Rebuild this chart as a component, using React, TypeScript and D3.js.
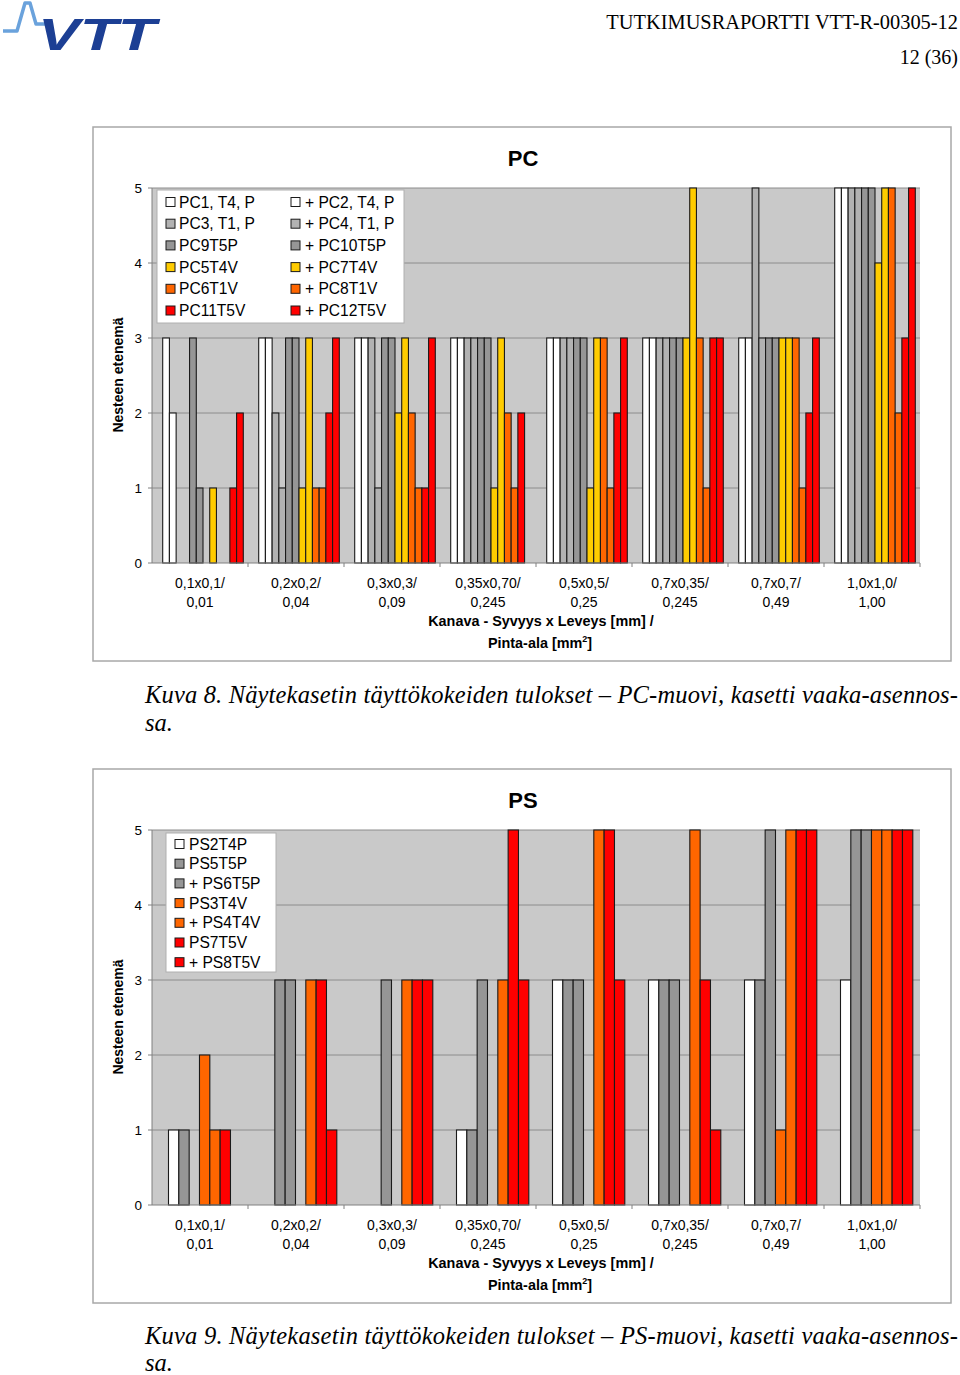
import React from "react";
import * as d3 from "d3";

// ---------- DATA ----------
const categoriesLine1 = ["0,1x0,1/", "0,2x0,2/", "0,3x0,3/", "0,35x0,70/", "0,5x0,5/", "0,7x0,35/", "0,7x0,7/", "1,0x1,0/"];
const categoriesLine2 = ["0,01", "0,04", "0,09", "0,245", "0,25", "0,245", "0,49", "1,00"];
const yTicks = [0, 1, 2, 3, 4, 5];

const pcSeriesNames = [
  "PC1, T4, P", "+ PC2, T4, P",
  "PC3, T1, P", "+ PC4, T1, P",
  "PC9T5P", "+ PC10T5P",
  "PC5T4V", "+ PC7T4V",
  "PC6T1V", "+ PC8T1V",
  "PC11T5V", "+ PC12T5V",
];
const pcSeriesColors = [
  "#ffffff", "#ffffff",
  "#b2b2b2", "#b2b2b2",
  "#969696", "#969696",
  "#ffcc00", "#ffcc00",
  "#ff6600", "#ff6600",
  "#ff0000", "#ff0000",
];
const pcValues = [
  [3, 3, 3, 3, 3, 3, 3, 5],
  [2, 3, 3, 3, 3, 3, 3, 5],
  [0, 2, 3, 3, 3, 3, 5, 5],
  [0, 1, 1, 3, 3, 3, 3, 5],
  [3, 3, 3, 3, 3, 3, 3, 5],
  [1, 3, 3, 3, 3, 3, 3, 5],
  [0, 1, 2, 1, 1, 3, 3, 4],
  [1, 3, 3, 3, 3, 5, 3, 5],
  [0, 1, 2, 2, 3, 3, 3, 5],
  [0, 1, 1, 1, 1, 1, 1, 2],
  [1, 2, 1, 2, 2, 3, 2, 3],
  [2, 3, 3, 0, 3, 3, 3, 5],
];

const psSeriesNames = ["PS2T4P", "PS5T5P", "+ PS6T5P", "PS3T4V", "+ PS4T4V", "PS7T5V", "+ PS8T5V"];
const psSeriesColors = ["#ffffff", "#969696", "#969696", "#ff6600", "#ff6600", "#ff0000", "#ff0000"];
const psValues = [
  [1, 0, 0, 1, 3, 3, 3, 3],
  [1, 3, 0, 1, 3, 3, 3, 5],
  [0, 3, 3, 3, 3, 3, 5, 5],
  [2, 0, 0, 0, 0, 0, 1, 5],
  [1, 3, 3, 3, 5, 5, 5, 5],
  [1, 3, 3, 5, 5, 3, 5, 5],
  [0, 1, 3, 3, 3, 1, 5, 5],
];

// ---------- STYLE ----------
const SANS = "'Liberation Sans', Arial, Helvetica, sans-serif";
const SERIF = "'Liberation Serif', 'Times New Roman', serif";

type LegendCfg = {
  x: number; y: number; w: number; h: number;
  cols: { mx: number; tx: number }[];
  rowY: number; rowStep: number;
};

type ChartProps = {
  dy: number;
  title: string;
  names: string[];
  colors: string[];
  values: number[][];
  innerStart: number;
  innerEnd: number;
  legend: LegendCfg;
  captionA: string;
  captionB: string;
  captionAY: number;
  captionBY: number;
};

function BarChart({ dy, title, names, colors, values, innerStart, innerEnd, legend, captionA, captionB, captionAY, captionBY }: ChartProps) {
  const frame = { x: 93, y: 127, w: 858, h: 534 };
  const plot = { x0: 152, x1: 920, top: 188, bottom: 563 };

  const x = d3.scaleBand<string>().domain(categoriesLine1.map((_, i) => String(i))).range([plot.x0, plot.x1]).padding(0);
  const inner = d3.scaleBand<string>().domain(names.map((_, i) => String(i))).range([innerStart, innerEnd]).padding(0);
  const y = d3.scaleLinear().domain([0, 5]).range([plot.bottom, plot.top]);
  const bw = x.bandwidth();

  return (
    <g transform={`translate(0,${dy})`}>
      <rect x={frame.x} y={frame.y} width={frame.w} height={frame.h} fill="#ffffff" stroke="#a8a8a8" strokeWidth={1.5} />
      <text x={523} y={166} textAnchor="middle" fontFamily={SANS} fontWeight="bold" fontSize={22}>{title}</text>

      {/* plot area */}
      <rect x={plot.x0} y={plot.top} width={plot.x1 - plot.x0} height={plot.bottom - plot.top} fill="#c9c9c9" />
      {yTicks.filter((t) => t > 0).map((t) => (
        <line key={t} x1={plot.x0} x2={plot.x1} y1={y(t)} y2={y(t)} stroke="#8c8c8c" strokeWidth={1} />
      ))}

      {/* bars */}
      {values.map((series, si) =>
        series.map((v, ci) =>
          v > 0 ? (
            <rect
              key={`${si}-${ci}`}
              x={(x(String(ci)) as number) + (inner(String(si)) as number)}
              y={y(v)}
              width={inner.bandwidth()}
              height={y(0) - y(v)}
              fill={colors[si]}
              stroke="#1a1a1a"
              strokeWidth={1.1}
            />
          ) : null
        )
      )}

      {/* axes */}
      <line x1={plot.x0} x2={plot.x0} y1={plot.top} y2={plot.bottom} stroke="#808080" strokeWidth={1} />
      <line x1={plot.x0} x2={plot.x1} y1={plot.bottom} y2={plot.bottom} stroke="#808080" strokeWidth={1} />
      {yTicks.map((t) => (
        <g key={t}>
          <line x1={plot.x0 - 4} x2={plot.x0} y1={y(t)} y2={y(t)} stroke="#808080" />
          <text x={142} y={y(t)} dy="0.35em" textAnchor="end" fontFamily={SANS} fontSize={13.5}>{t}</text>
        </g>
      ))}
      {categoriesLine1.map((c, i) => (
        <g key={i}>
          <line x1={(x(String(i)) as number) + bw} x2={(x(String(i)) as number) + bw} y1={plot.bottom} y2={plot.bottom + 4} stroke="#808080" />
          <text x={(x(String(i)) as number) + bw / 2} y={588} textAnchor="middle" fontFamily={SANS} fontSize={14}>{c}</text>
          <text x={(x(String(i)) as number) + bw / 2} y={607} textAnchor="middle" fontFamily={SANS} fontSize={14}>{categoriesLine2[i]}</text>
        </g>
      ))}
      <text x={541} y={626} textAnchor="middle" fontFamily={SANS} fontWeight="bold" fontSize={14.4}>Kanava - Syvyys x Leveys [mm] /</text>
      <text x={540} y={648} textAnchor="middle" fontFamily={SANS} fontWeight="bold" fontSize={14.4}>
        Pinta-ala [mm<tspan dy={-6} fontSize={9}>2</tspan><tspan dy={6}>]</tspan>
      </text>
      <text transform={`translate(123,375) rotate(-90)`} textAnchor="middle" fontFamily={SANS} fontWeight="bold" fontSize={14}>Nesteen etenemä</text>

      {/* legend */}
      <rect x={legend.x} y={legend.y} width={legend.w} height={legend.h} fill="#ffffff" stroke="#b0b0b0" strokeWidth={1} />
      {names.map((n, i) => {
        const nc = legend.cols.length;
        const col = legend.cols[i % nc];
        const row = Math.floor(i / nc);
        const cy = legend.rowY + row * legend.rowStep;
        return (
          <g key={n}>
            <rect x={col.mx} y={cy - 4.5} width={9} height={9} fill={colors[i]} stroke="#1a1a1a" strokeWidth={1} />
            <text x={col.tx} y={cy} dy="0.36em" fontFamily={SANS} fontSize={15.6}>{n}</text>
          </g>
        );
      })}

      {/* caption */}
      <text x={145} y={captionAY} fontFamily={SERIF} fontStyle="italic" fontSize={24.5} textLength={813} lengthAdjust="spacing">{captionA}</text>
      <text x={145} y={captionBY} fontFamily={SERIF} fontStyle="italic" fontSize={24.5}>{captionB}</text>
    </g>
  );
}

export default function App() {
  return (
    <svg width={960} height={1375} style={{ position: "absolute", left: 0, top: 0, background: "#ffffff" }}>
      <rect x={0} y={0} width={960} height={1375} fill="#ffffff" />
      {/* header logo */}
      <path d="M3,31 L17,31 L25,3 L30,3 L36,24 L46,24" fill="none" stroke="#6aa2dc" strokeWidth={3.5} strokeLinejoin="round" />
      <text x={38} y={50} fontFamily={SANS} fontWeight="bold" fontStyle="italic" fontSize={44} fill="#1c3f94" textLength={118} lengthAdjust="spacingAndGlyphs">VTT</text>
      <text x={958} y={29} textAnchor="end" fontFamily={SERIF} fontSize={20.4}>TUTKIMUSRAPORTTI VTT-R-00305-12</text>
      <text x={958} y={64} textAnchor="end" fontFamily={SERIF} fontSize={20}>12 (36)</text>

      <BarChart
        dy={0}
        title="PC"
        names={pcSeriesNames}
        colors={pcSeriesColors}
        values={pcValues}
        innerStart={10.7}
        innerEnd={91.3}
        legend={{ x: 157, y: 190, w: 247, h: 133, cols: [{ mx: 166, tx: 179 }, { mx: 291, tx: 305 }], rowY: 202, rowStep: 21.7 }}
        captionA="Kuva 8. Näytekasetin täyttökokeiden tulokset – PC-muovi, kasetti vaaka-asennos-"
        captionB="sa."
        captionAY={703}
        captionBY={731}
      />
      <BarChart
        dy={642}
        title="PS"
        names={psSeriesNames}
        colors={psSeriesColors}
        values={psValues}
        innerStart={16.5}
        innerEnd={88.8}
        legend={{ x: 166, y: 191, w: 110, h: 139, cols: [{ mx: 175, tx: 189 }], rowY: 202, rowStep: 19.7 }}
        captionA="Kuva 9. Näytekasetin täyttökokeiden tulokset – PS-muovi, kasetti vaaka-asennos-"
        captionB="sa."
        captionAY={702}
        captionBY={729}
      />
    </svg>
  );
}
